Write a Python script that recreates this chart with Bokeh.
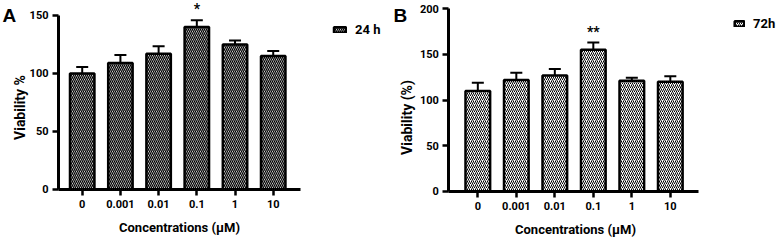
from bokeh.plotting import figure
from bokeh.layouts import row
from bokeh.models import (Range1d, FixedTicker, Whisker, TeeHead, Legend, LegendItem,
                          Label, ColumnDataSource)
from bokeh.core.properties import value
from bokeh.embed import file_html
from bokeh.resources import INLINE

# ---- data ----
conc_labels = ["0", "0.001", "0.01", "0.1", "1", "10"]
viab_24h = [100, 109, 117, 140, 125, 115]
err_24h = [5.5, 7, 6.5, 6, 3.5, 4.5]
sig_24h = ["", "", "", "*", "", ""]
viab_72h = [110, 122, 127, 155, 121, 120]
err_72h = [9, 8, 7, 8, 3.5, 6]
sig_72h = ["", "", "", "**", "", ""]

FONT = "Roboto"
H = 241


def panel(letter, vals, errs, sigs, legend_label, ylabel, hatch, hweight, width,
          xr, yr, xaxis_bounds, yaxis_max, yticks, leg_loc, glyph_w,
          letter_xy, ytitle_xy, xtitle_xy):
    n = len(vals)
    xs = list(range(n))
    p = figure(width=width, height=H, output_backend="svg", toolbar_location=None,
               x_range=Range1d(*xr), y_range=Range1d(*yr),
               min_border=0, min_border_left=0, min_border_right=0,
               min_border_top=0, min_border_bottom=0)
    p.outline_line_color = None
    p.grid.grid_line_color = None

    src = ColumnDataSource(dict(x=xs, top=vals, upper=[v + e for v, e in zip(vals, errs)],
                                sig=sigs))
    r = p.vbar(x="x", top="top", width=0.64, source=src, fill_color="white",
               line_color="black", line_width=2.5, hatch_pattern=hatch,
               hatch_color="black", hatch_weight=hweight, hatch_scale=4)
    w = Whisker(source=src, base="x", lower="top", upper="upper", dimension="height",
                line_width=2, line_color="black",
                upper_head=TeeHead(size=12, line_width=2, line_color="black"),
                lower_head=None, level="underlay")
    p.add_layout(w)
    p.text(x="x", y="upper", text="sig", source=src, text_align="center",
           text_baseline="top", y_offset=-19, text_font=value(FONT),
           text_font_style="bold", text_font_size="14px", text_color="black")

    for ax in (p.xaxis[0], p.yaxis[0]):
        ax.axis_line_width = 3
        ax.major_tick_line_width = 2.5
        ax.major_tick_out = 6
        ax.major_tick_in = 0
        ax.minor_tick_line_color = None
        ax.major_label_text_font = FONT
        ax.major_label_text_font_style = "bold"
        ax.major_label_text_font_size = "11px"
        ax.major_label_text_color = "black"
        ax.axis_line_color = "black"
        ax.major_tick_line_color = "black"
    p.yaxis.bounds = (0, yaxis_max)
    p.yaxis.ticker = FixedTicker(ticks=yticks)
    p.yaxis.major_label_standoff = 4
    p.yaxis.fixed_location = xaxis_bounds[0]

    p.xaxis.bounds = xaxis_bounds
    p.xaxis.ticker = FixedTicker(ticks=xs)
    p.xaxis.major_label_overrides = {i: lab for i, lab in enumerate(conc_labels)}
    p.xaxis.major_label_standoff = 5
    p.xaxis.fixed_location = 0

    # titles (frame covers the whole canvas, screen units = canvas pixels from bottom-left)
    p.add_layout(Label(x=ytitle_xy[0], y=H - ytitle_xy[1], x_units="screen", y_units="screen",
                       text=ylabel, angle=90, angle_units="deg", text_align="center",
                       text_baseline="middle", text_font=FONT, text_font_style="bold",
                       text_font_size="14px", text_color="black"))
    p.add_layout(Label(x=xtitle_xy[0], y=H - xtitle_xy[1], x_units="screen", y_units="screen",
                       text="Concentrations (μM)", text_align="center",
                       text_baseline="middle", text_font=FONT, text_font_style="bold",
                       text_font_size="13px", text_color="black"))
    p.add_layout(Label(x=letter_xy[0], y=H - letter_xy[1], x_units="screen", y_units="screen",
                       text=letter, text_align="left", text_baseline="top",
                       text_font="Liberation Sans", text_font_style="bold",
                       text_font_size="19px", text_color="black"))

    leg = Legend(items=[LegendItem(label=legend_label, renderers=[r])],
                 location=leg_loc, glyph_width=glyph_w, glyph_height=7,
                 label_standoff=8, padding=0, margin=0, border_line_color=None,
                 background_fill_alpha=0, label_text_font=FONT,
                 label_text_font_style="bold", label_text_font_size="13px",
                 label_text_color="black")
    p.add_layout(leg)
    return p


pa = panel("A", viab_24h, err_24h, sig_24h, "24 h", "Viability %", "\\", 1.3, 390,
           (-2.139, 8.07), (-44.83, 162.93), (-0.62, 5.71), 150, [0, 50, 100, 150],
           (332, 204), 15, (2, 4), (19, 107), (179, 227))
pb = panel("B", viab_72h, err_72h, sig_72h, "72h", "Viability (%)", "/", 1.0, 387,
           (-2.268, 7.784), (-55.15, 209.1), (-0.753, 5.74), 200, [0, 50, 100, 150, 200],
           (343, 210), 12, (3, 4), (16, 117), (185, 229))

layout = row(pa, pb)
open("out.html", "w").write(file_html(layout, INLINE))
